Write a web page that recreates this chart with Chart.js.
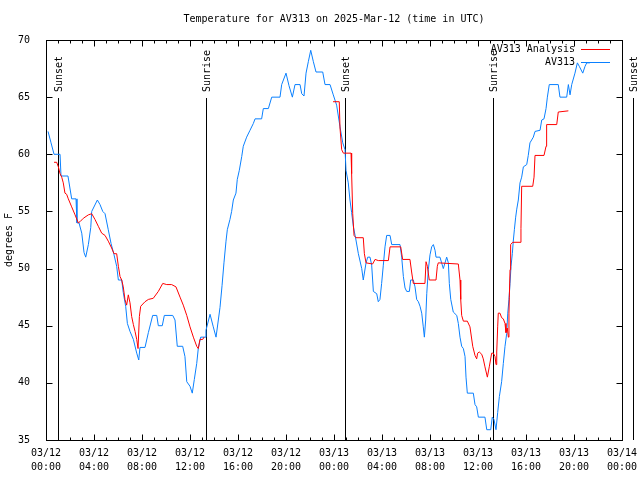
<!DOCTYPE html>
<html>
<head>
<meta charset="utf-8">
<title>Temperature for AV313</title>
<script src="https://cdn.jsdelivr.net/npm/chart.js@4/dist/chart.umd.min.js"></script>
<style>
  body { margin: 0; background: #fff; }
  canvas { display: block; }
</style>
</head>
<body>
<canvas id="tempChart" width="640" height="480"></canvas>
<script>
// hours since 03/12 00:00 UTC, degrees F
const av313 = [
  [0.17, 62.0], [0.42, 61.0], [0.67, 60.0], [1.17, 60.0], [1.25, 58.1], [1.83, 58.1], [2.14, 56.1], [2.50, 56.1],
  [2.58, 54.0], [2.75, 54.0], [2.98, 53.1], [3.17, 51.4], [3.31, 51.0], [3.53, 52.1], [3.73, 53.6], [3.81, 55.0],
  [4.28, 56.0], [4.50, 55.6], [4.73, 55.0], [4.92, 54.8], [5.19, 53.4], [5.42, 52.2], [5.67, 51.2], [5.89, 50.2],
  [6.03, 49.0], [6.31, 49.0], [6.44, 47.9], [6.64, 46.7], [6.78, 45.2], [7.00, 44.5], [7.28, 43.8], [7.56, 42.6],
  [7.73, 42.0], [7.83, 43.1], [8.25, 43.1], [8.53, 44.4], [8.89, 45.9], [9.23, 45.9], [9.36, 45.0], [9.69, 45.0],
  [9.86, 45.9], [10.56, 45.9], [10.75, 45.5], [10.94, 43.2], [11.39, 43.2], [11.58, 42.3], [11.73, 40.1], [12.00, 39.7],
  [12.19, 39.1], [12.36, 40.3], [12.56, 41.7], [12.69, 43.0], [12.89, 44.0], [13.25, 44.0], [13.33, 44.6], [13.67, 46.0],
  [13.94, 44.9], [14.17, 44.0], [14.50, 46.6], [14.67, 48.5], [14.83, 50.5], [15.00, 52.4], [15.11, 53.4], [15.33, 54.3],
  [15.47, 55.0], [15.61, 56.0], [15.83, 56.6], [15.94, 57.8], [16.11, 58.6], [16.31, 59.8], [16.44, 60.7], [16.72, 61.5],
  [17.00, 62.1], [17.28, 62.7], [17.42, 63.1], [17.97, 63.1], [18.11, 64.0], [18.53, 64.0], [18.81, 65.0], [19.50, 65.0],
  [19.64, 66.1], [20.00, 67.1], [20.25, 66.0], [20.53, 65.0], [20.75, 66.1], [21.17, 66.1], [21.31, 65.3], [21.50, 65.1],
  [21.67, 67.1], [21.86, 68.1], [22.06, 69.1], [22.28, 68.1], [22.50, 67.2], [23.06, 67.2], [23.25, 66.1], [23.67, 66.1],
  [23.94, 65.2], [24.22, 64.3], [24.50, 62.4], [24.73, 61.0], [24.92, 60.4], [25.00, 58.6], [25.19, 57.5], [25.33, 56.0],
  [25.47, 54.9], [25.61, 53.7], [25.83, 52.5], [26.03, 51.3], [26.31, 50.0], [26.44, 49.0], [26.67, 50.5], [26.81, 51.0],
  [27.00, 51.0], [27.14, 50.3], [27.28, 48.0], [27.56, 47.8], [27.69, 47.1], [27.83, 47.3], [27.97, 48.7], [28.11, 50.3],
  [28.25, 51.9], [28.39, 52.9], [28.67, 52.9], [28.81, 52.1], [29.50, 52.1], [29.64, 51.0], [29.78, 49.3], [29.92, 48.3],
  [30.06, 48.0], [30.28, 48.0], [30.39, 49.0], [30.61, 49.0], [30.75, 48.4], [30.89, 47.3], [31.03, 47.1], [31.17, 46.7],
  [31.31, 46.1], [31.44, 44.9], [31.53, 44.0], [31.64, 45.5], [31.73, 47.8], [31.86, 49.9], [32.00, 51.2], [32.14, 51.9],
  [32.28, 52.1], [32.42, 51.6], [32.50, 51.0], [32.83, 51.0], [32.97, 50.5], [33.11, 50.0], [33.25, 50.5], [33.39, 51.0],
  [33.53, 50.5], [33.61, 48.7], [33.73, 47.3], [33.94, 46.2], [34.23, 45.9], [34.36, 45.2], [34.50, 44.0], [34.64, 43.2],
  [34.78, 43.0], [34.92, 42.3], [35.00, 40.5], [35.11, 39.1], [35.61, 39.1], [35.75, 38.1], [35.89, 37.9], [36.03, 37.0],
  [36.58, 37.0], [36.73, 35.9], [37.06, 35.9], [37.19, 37.0], [37.33, 36.8], [37.50, 35.9], [37.64, 37.4], [37.78, 38.8],
  [37.97, 40.1], [38.11, 41.7], [38.25, 43.2], [38.39, 44.3], [38.48, 46.1], [38.58, 47.3], [38.67, 48.7], [38.75, 50.2],
  [38.86, 51.3], [38.94, 52.4], [39.03, 53.4], [39.14, 54.5], [39.23, 55.2], [39.36, 56.0], [39.50, 57.5], [39.64, 58.0],
  [39.78, 58.9], [40.06, 59.1], [40.19, 59.9], [40.33, 61.0], [40.61, 61.5], [40.75, 62.0], [41.17, 62.1], [41.31, 63.0],
  [41.50, 63.1], [41.67, 64.0], [41.78, 65.0], [41.94, 66.1], [42.69, 66.1], [42.83, 65.0], [43.39, 65.0], [43.53, 66.1],
  [43.67, 65.2], [43.81, 66.1], [44.08, 67.1], [44.28, 68.0], [44.44, 67.7], [44.73, 67.1], [44.92, 67.7], [45.06, 68.0],
  [45.33, 68.0]
];

const av313Analysis = [
  [0.67, 59.3], [0.89, 59.3], [1.03, 58.9], [1.17, 58.3], [1.31, 58.0], [1.44, 57.5], [1.58, 56.6], [1.72, 56.5],
  [1.86, 56.1], [2.14, 55.4], [2.42, 54.7], [2.69, 54.0], [2.83, 54.1], [3.11, 54.4], [3.53, 54.7], [3.81, 54.8],
  [4.08, 54.3], [4.36, 53.7], [4.64, 53.1], [4.92, 52.9], [5.19, 52.4], [5.47, 51.8], [5.67, 51.3], [5.89, 51.3],
  [6.03, 50.2], [6.17, 49.3], [6.31, 49.0], [6.44, 48.4], [6.58, 47.3], [6.72, 46.8], [6.86, 47.7], [7.00, 47.0],
  [7.14, 45.8], [7.28, 45.1], [7.42, 44.5], [7.56, 43.8], [7.67, 43.0], [7.78, 45.8], [7.89, 46.7], [8.25, 47.1],
  [8.53, 47.3], [8.94, 47.4], [9.36, 48.0], [9.73, 48.7], [10.06, 48.6], [10.47, 48.6], [10.83, 48.4], [11.17, 47.5],
  [11.44, 46.8], [11.73, 45.9], [12.00, 44.9], [12.28, 44.0], [12.56, 43.2], [12.69, 43.0], [12.83, 43.8], [13.06, 43.8],
  [13.17, 44.0],
  [18.00, null], // no analysis values during the day
  [23.92, 64.6], [24.44, 64.6], [24.50, 62.3], [24.64, 60.4], [24.78, 60.1], [25.42, 60.1], [25.47, 58.3], [25.56, 54.8],
  [25.67, 52.9], [25.83, 52.7], [26.44, 52.7], [26.53, 51.3], [26.67, 50.5], [27.22, 50.4], [27.42, 50.8], [27.69, 50.7],
  [28.53, 50.7], [28.67, 51.9], [29.56, 51.9], [29.72, 50.8], [30.33, 50.8], [30.47, 49.7], [30.61, 48.7], [31.58, 48.7],
  [31.67, 50.6], [31.78, 50.2], [31.94, 49.0], [32.50, 49.0], [32.61, 50.2], [32.69, 50.5], [34.36, 50.4], [34.50, 49.0],
  [34.56, 47.3], [34.64, 45.9], [34.78, 45.4], [35.11, 45.4], [35.33, 44.9], [35.56, 43.2], [35.75, 42.4], [35.89, 42.1],
  [35.97, 42.6], [36.11, 42.7], [36.31, 42.5], [36.44, 42.1], [36.58, 41.4], [36.78, 40.5], [36.94, 41.4], [37.14, 42.6],
  [37.28, 42.6], [37.42, 42.3], [37.50, 41.6], [37.56, 42.7], [37.64, 44.9], [37.69, 46.1], [37.83, 46.1], [37.97, 45.7],
  [38.11, 45.6], [38.25, 45.2], [38.33, 44.4], [38.44, 44.8], [38.53, 44.0], [38.58, 46.1], [38.61, 47.5], [38.67, 49.9],
  [38.72, 52.1], [38.89, 52.3], [39.50, 52.3], [39.58, 53.5], [39.64, 57.2], [40.56, 57.2], [40.67, 58.0], [40.75, 59.9],
  [41.50, 59.9], [41.67, 60.7], [41.72, 62.6], [42.56, 62.6], [42.69, 63.7], [43.53, 63.8]
];

const sunEvents = ["Sunset", "Sunrise", "Sunset", "Sunrise", "Sunset"];
const sunHours = [1.03, 13.31, 24.94, 37.28, 48.92];

const dayLabels = ["03/12", "03/13", "03/14"];
const seriesNames = ["AV313 Analysis", "AV313"];
const seriesColors = ["#ff0000", "#0a80ff"];

const FONT = "10px 'DejaVu Sans Mono', monospace";

function hourLabel(v) {
  const h = v % 24;
  return [dayLabels[Math.floor(v / 24)], (h < 10 ? "0" : "") + h + ":00"];
}

// gnuplot style frame: inward ticks on all four sides, sun lines, legend
const gnuplotDecor = {
  id: "gnuplotDecor",
  beforeDatasetsDraw(chart) {
    const { ctx, chartArea: a, scales } = chart;
    ctx.save();
    ctx.strokeStyle = "#000";
    ctx.lineWidth = 1;
    sunHours.forEach((h) => {
      const x = Math.round(scales.x.getPixelForValue(h)) + 0.5;
      ctx.beginPath();
      ctx.moveTo(x, 98);
      ctx.lineTo(x, a.bottom);
      ctx.stroke();
    });
    ctx.restore();
  },
  afterDraw(chart) {
    const { ctx, chartArea: a, scales } = chart;
    const L = a.left + 0.5, R = a.right + 0.5, T = a.top + 0.5, B = a.bottom + 0.5;
    ctx.save();
    ctx.strokeStyle = "#000";
    ctx.lineWidth = 1;
    ctx.strokeRect(L, T, R - L, B - T);

    ctx.beginPath();
    for (let h = 0; h <= 48; h++) {
      const x = Math.round(scales.x.getPixelForValue(h)) + 0.5;
      const len = h % 4 === 0 ? 6 : 3;
      ctx.moveTo(x, B); ctx.lineTo(x, B - len);
      ctx.moveTo(x, T); ctx.lineTo(x, T + len);
    }
    for (let t = 35; t <= 70; t += 5) {
      const y = Math.round(scales.y.getPixelForValue(t)) + 0.5;
      ctx.moveTo(L, y); ctx.lineTo(L + 6, y);
      ctx.moveTo(R, y); ctx.lineTo(R - 6, y);
    }
    ctx.stroke();

    ctx.font = FONT;
    ctx.fillStyle = "#000";

    // sunrise / sunset labels
    ctx.textAlign = "left";
    ctx.textBaseline = "middle";
    sunHours.forEach((h, i) => {
      const x = Math.round(scales.x.getPixelForValue(h)) + 1;
      ctx.save();
      ctx.translate(x, 92);
      ctx.rotate(-Math.PI / 2);
      ctx.fillText(sunEvents[i], 0, 0);
      ctx.restore();
    });

    // title
    ctx.textAlign = "center";
    ctx.fillText("Temperature for AV313 on 2025-Mar-12 (time in UTC)", (a.left + a.right) / 2, 19);

    // y axis title
    ctx.save();
    ctx.translate(9, (a.top + a.bottom) / 2);
    ctx.rotate(-Math.PI / 2);
    ctx.fillText("degrees F", 0, 0);
    ctx.restore();

    // legend
    ctx.textAlign = "right";
    seriesNames.forEach((name, i) => {
      const y = 49 + i * 13;
      ctx.fillStyle = "#000";
      ctx.fillText(name, 575, y);
      ctx.strokeStyle = seriesColors[i];
      ctx.beginPath();
      ctx.moveTo(581, y + 0.5);
      ctx.lineTo(610, y + 0.5);
      ctx.stroke();
    });
    ctx.restore();
  },
};

Chart.defaults.font.family = "'DejaVu Sans Mono', monospace";
Chart.defaults.font.size = 10;
Chart.defaults.color = "#000";

new Chart(document.getElementById("tempChart"), {
  type: "line",
  data: {
    datasets: [
      {
        label: seriesNames[0],
        data: av313Analysis,
        borderColor: seriesColors[0],
        borderWidth: 1,
        pointRadius: 0,
        tension: 0,
        spanGaps: false,
        fill: false,
      },
      {
        label: seriesNames[1],
        data: av313,
        borderColor: seriesColors[1],
        borderWidth: 1,
        pointRadius: 0,
        tension: 0,
        fill: false,
      },
    ],
  },
  options: {
    responsive: false,
    animation: false,
    devicePixelRatio: 1,
    layout: { padding: { top: 40, right: 18, left: 0, bottom: 0 } },
    plugins: {
      legend: { display: false },
      title: { display: false },
      tooltip: { enabled: false },
    },
    scales: {
      x: {
        type: "linear",
        min: 0,
        max: 48,
        grid: { display: false },
        border: { display: false },
        afterFit(scale) { scale.height = 40; },
        ticks: {
          stepSize: 4,
          autoSkip: false,
          maxRotation: 0,
          padding: -2,
          font: { lineHeight: 1.4 },
          callback: (v) => hourLabel(v),
        },
      },
      y: {
        min: 35,
        max: 70,
        grid: { display: false },
        border: { display: false },
        afterFit(scale) { scale.width = 46; },
        ticks: { stepSize: 5, padding: 8 },
      },
    },
  },
  plugins: [gnuplotDecor],
});
</script>
</body>
</html>
